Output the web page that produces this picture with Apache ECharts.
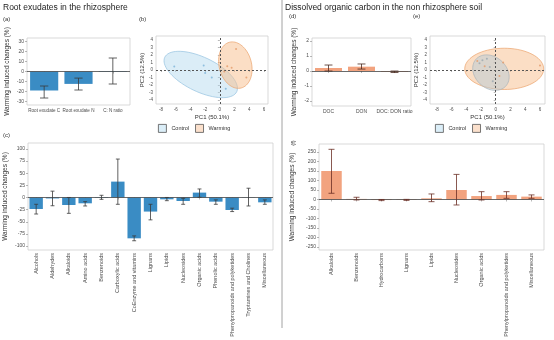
<!DOCTYPE html>
<html><head><meta charset="utf-8">
<script src="https://cdn.jsdelivr.net/npm/echarts@6/dist/echarts.min.js"></script>
<style>html,body{margin:0;padding:0;background:#fff}#c{width:554px;height:340px}</style>
</head><body><div id="c"></div>
<script>
// ---- data ----
var aCats = ['Root exudate C', 'Root exudate N', 'C: N ratio'];
var aVals = [-19, -12.4, 0.5];
var aLow  = [-26.5, -18.5, -12.5];
var aHigh = [-14.5, -6.6, 13.5];

var cCats = ['Alcohols','Aldehydes','Alkaloids','Amino acids','Benzenoids','Carboxylic acids','CoEnzyme and vitamins','Lignans','Lipids','Nucleosides','Organic acids','Phenolic acids','Phenylpropanoids and polyketides','Tryptamines and Cholines','Miscellaneous'];
var cVals = [-23.7, -2, -15.5, -12, -1, 32.6, -84, -29, -3.8, -7.2, 10, -8.6, -25.8, -0.5, -10];
var cLow  = [-34, -17, -32.6, -17.5, -3.8, -14, -89, -46, -6.6, -14, 0.4, -14, -29, -17.5, -14];
var cHigh = [-14, 13, 0, -8.6, 4.5, 79, -79, -14, 0, -1.7, 17.5, -5, -22, 19, -5];

var dCats = ['DOC', 'DON', 'DOC: DON ratio'];
var dVals = [0.2, 0.29, -0.05];
var dLow  = [0.0, 0.13, -0.1];
var dHigh = [0.4, 0.47, 0.0];

var fCats = ['Alkaloids','Benzenoids','Hydrocarbons','Lignans','Lipids','Nucleosides','Organic acids','Phenylpropanoids and polyketides','Miscellaneous'];
var fVals = [150, 3, -3, -2, 6, 50, 18, 24, 15];
var fLow  = [32.6, -2.6, -6, -5, -11.6, -29, -2.6, 6, 6];
var fHigh = [264, 11.6, 0, 0.5, 29, 132, 41, 41, 24];

// PCA points [PC1, PC2]
var bControlPts = [[-6.2, 0.45], [-2.2, 0.6], [-2.0, -0.4], [-1.1, -1.0], [0.8, -2.5]];
var bWarmingPts = [[2.2, 2.8], [1.0, 0.5], [3.6, -1.0], [0.6, -0.2], [1.6, 0.3]];
var eControlPts = [[-1.8, 1.3], [-1.2, 1.5], [-2.2, 0.9], [-0.4, -1.5], [-0.8, 0.4]];
var eWarmingPts = [[6.0, 0.6], [-1.5, 0.5], [0.5, -0.8], [-2.5, 1.2], [1.0, 1.0]];
// confidence ellipses [cx, cy, semiMajor, semiMinor, angleDeg]
var bControlEll = [-2.6, -0.6, 5.4, 2.3, -25];
var bWarmingEll = [2.1, 0.65, 3.15, 2.2, -75];
var eControlEll = [-0.65, -0.35, 2.7, 2.1, -40];
var eWarmingEll = [1.15, 0.15, 5.35, 2.75, 0];

var pcTicks = [-8, -6, -4, -2, 0, 2, 4, 6];
var pc2Ticks = [-4, -3, -2, -1, 0, 1, 2, 3, 4];
var aTicks = [-30, -20, -10, 0, 10, 20, 30];
var cTicks = [-100, -75, -50, -25, 0, 25, 50, 75, 100];
var dTicks = [-2, -1, 0, 1, 2];
var fTicks = [-250, -200, -150, -100, -50, 0, 50, 100, 150, 200, 250];

// ---- styling ----
var FONT = 'Liberation Sans, Arial, sans-serif';
var BLUE = '#3a8cc4', ORANGE = '#f2a37f';
var TXT = '#4d4d4d';
var yName = 'Warming induced changes (%)';

function grid(l, t, w, h) {
  return {left: l, top: t, width: w, height: h, show: true, borderColor: '#cfcfcf', borderWidth: 0.8, backgroundColor: '#fff', containLabel: false};
}
function catAxis(idx, cats, rotate, fs) {
  return {type: 'category', gridIndex: idx, data: cats,
    axisLine: {show: false}, axisTick: {show: true, length: 2, lineStyle: {color: '#888', width: 0.6}, alignWithLabel: true},
    axisLabel: {fontSize: fs, color: TXT, fontFamily: FONT, rotate: rotate, margin: 3, interval: 0}};
}
function valAxis(idx, min, max, ticks, name, gap, fs, nfs) {
  return {type: 'value', gridIndex: idx, min: min, max: max, splitLine: {show: false},
    axisLine: {show: false},
    axisTick: {show: true, length: 2, lineStyle: {color: '#888', width: 0.6}, customValues: ticks},
    axisLabel: {fontSize: fs, color: TXT, fontFamily: FONT, margin: 3, customValues: ticks, showMinLabel: true, showMaxLabel: true},
    name: name, nameLocation: 'middle', nameGap: gap, nameRotate: 90,
    nameTextStyle: {fontSize: nfs, color: '#333', fontFamily: FONT}};
}
function pcXAxis(idx, min, max) {
  return {type: 'value', gridIndex: idx, min: min, max: max, splitLine: {show: false},
    axisLine: {show: false},
    axisTick: {show: true, length: 2, lineStyle: {color: '#888', width: 0.6}, customValues: pcTicks},
    axisLabel: {fontSize: 4.5, color: TXT, fontFamily: FONT, margin: 3, customValues: pcTicks},
    name: 'PC1 (50.1%)', nameLocation: 'middle', nameGap: 10,
    nameTextStyle: {fontSize: 6, color: '#333', fontFamily: FONT}};
}
function pcYAxis(idx, gap) {
  return {type: 'value', gridIndex: idx, min: -4.53, max: 4.53, splitLine: {show: false},
    axisLine: {show: false},
    axisTick: {show: true, length: 2, lineStyle: {color: '#888', width: 0.6}, customValues: pc2Ticks},
    axisLabel: {fontSize: 4.5, color: TXT, fontFamily: FONT, margin: 3, customValues: pc2Ticks},
    name: 'PC2 (12.5%)', nameLocation: 'middle', nameGap: gap, nameRotate: 90,
    nameTextStyle: {fontSize: 6, color: '#333', fontFamily: FONT}};
}
function barSeries(idx, vals, color) {
  return {type: 'bar', xAxisIndex: idx, yAxisIndex: idx, data: vals, barCategoryGap: '18%',
    itemStyle: {color: color}, silent: true,
    markLine: {silent: true, symbol: 'none', label: {show: false},
      lineStyle: {color: '#444', width: 0.8, type: 'solid'}, data: [{yAxis: 0}]}};
}
function errSeries(idx, low, high, color) {
  var data = low.map(function (l, i) { return [i, l, high[i]]; });
  return {type: 'custom', xAxisIndex: idx, yAxisIndex: idx, data: data, silent: true, z: 5,
    encode: {x: 0, y: [1, 2]},
    renderItem: function (params, api) {
      var lo = api.coord([api.value(0), api.value(1)]);
      var hi = api.coord([api.value(0), api.value(2)]);
      var w = api.size([1, 0])[0] * 0.12;
      var st = {stroke: color, lineWidth: 0.8};
      return {type: 'group', children: [
        {type: 'line', shape: {x1: lo[0], y1: lo[1], x2: hi[0], y2: hi[1]}, style: st},
        {type: 'line', shape: {x1: lo[0] - w, y1: lo[1], x2: lo[0] + w, y2: lo[1]}, style: st},
        {type: 'line', shape: {x1: hi[0] - w, y1: hi[1], x2: hi[0] + w, y2: hi[1]}, style: st}
      ]};
    }};
}
function ellSeries(idx, name, ell, fill, stroke, z) {
  return {type: 'custom', name: name, xAxisIndex: idx, yAxisIndex: idx, data: [ell], silent: true, z: z,
    encode: {x: 0, y: 1},
    renderItem: function (params, api) {
      var cx = api.value(0), cy = api.value(1), a = api.value(2), b = api.value(3);
      var th = api.value(4) * Math.PI / 180;
      var pts = [];
      for (var k = 0; k < 72; k++) {
        var t = k / 72 * 2 * Math.PI;
        var x = cx + a * Math.cos(t) * Math.cos(th) - b * Math.sin(t) * Math.sin(th);
        var y = cy + a * Math.cos(t) * Math.sin(th) + b * Math.sin(t) * Math.cos(th);
        pts.push(api.coord([x, y]));
      }
      return {type: 'polygon', shape: {points: pts}, style: {fill: fill, stroke: stroke, lineWidth: 0.8}};
    }};
}
function ptSeries(idx, name, pts, color, withLines) {
  var s = {type: 'scatter', name: name, xAxisIndex: idx, yAxisIndex: idx, data: pts, symbolSize: 2,
    itemStyle: {color: color}, silent: true, z: 6};
  if (withLines) {
    s.markLine = {silent: true, symbol: 'none', label: {show: false},
      lineStyle: {color: '#555', width: 1, type: [2, 2]}, data: [{xAxis: 0}, {yAxis: 0}]};
  }
  return s;
}
function legend(left, top) {
  return {left: left, top: top, itemWidth: 8, itemHeight: 8, itemGap: 6, icon: 'rect',
    textStyle: {fontSize: 5.5, color: '#333', fontFamily: FONT},
    selectedMode: false,
    data: [
      {name: 'Control', itemStyle: {color: '#dbeef8', borderColor: '#555', borderWidth: 0.8}},
      {name: 'Warming', itemStyle: {color: '#fbe0cc', borderColor: '#555', borderWidth: 0.8}}
    ]};
}

var CFILL = 'rgba(176,214,238,0.45)', CSTROKE = 'rgba(150,195,225,0.9)';
var WFILL = 'rgba(247,190,140,0.5)', WSTROKE = 'rgba(235,165,110,0.9)';

var option = {
  animation: false,
  backgroundColor: '#fff',
  grid: [
    grid(27, 38, 103, 67),
    grid(156, 36, 112, 68),
    grid(28, 143, 245, 107),
    grid(312, 38, 99, 68),
    grid(430, 36, 115, 68),
    grid(319, 144, 225, 106)
  ],
  xAxis: [
    catAxis(0, aCats, 0, 4.6),
    pcXAxis(1, -8.68, 6.54),
    catAxis(2, cCats, 90, 5.5),
    catAxis(3, dCats, 0, 5),
    pcXAxis(4, -8.91, 6.68),
    catAxis(5, fCats, 90, 5.5)
  ],
  yAxis: [
    valAxis(0, -33.5, 33.5, aTicks, yName, 16, 5, 6.5),
    pcYAxis(1, 7),
    valAxis(2, -108, 112, cTicks, yName, 19, 5, 6.5),
    valAxis(3, -2.33, 2.2, dTicks, yName, 14, 5, 6.5),
    pcYAxis(4, 10),
    valAxis(5, -266, 292, fTicks, yName, 23, 5, 6.5)
  ],
  legend: [legend(153, 119), legend(430, 119)],
  series: [
    barSeries(0, aVals, BLUE), errSeries(0, aLow, aHigh, '#3a3a3a'),
    ellSeries(1, 'Control', bControlEll, CFILL, CSTROKE, 2),
    ellSeries(1, 'Warming', bWarmingEll, WFILL, WSTROKE, 3),
    ptSeries(1, 'Control', bControlPts, '#7ab3d8', true),
    ptSeries(1, 'Warming', bWarmingPts, '#e39a68', false),
    barSeries(2, cVals, BLUE), errSeries(2, cLow, cHigh, '#3a3a3a'),
    barSeries(3, dVals, ORANGE), errSeries(3, dLow, dHigh, '#4a2a20'),
    ellSeries(4, 'Warming', eWarmingEll, WFILL, WSTROKE, 2),
    ellSeries(4, 'Control', eControlEll, 'rgba(176,200,215,0.45)', 'rgba(170,180,185,0.9)', 3),
    ptSeries(4, 'Control', eControlPts, '#9aa8b0', true),
    ptSeries(4, 'Warming', eWarmingPts, '#e39a68', false),
    barSeries(5, fVals, ORANGE), errSeries(5, fLow, fHigh, '#6b2f25')
  ],
  graphic: [
    {type: 'line', shape: {x1: 282, y1: 0, x2: 282, y2: 328}, style: {stroke: '#8a8a8a', lineWidth: 0.8}, silent: true},
    {type: 'text', x: 3, y: 8, style: {text: 'Root exudates in the rhizosphere', fontSize: 8.5, fill: '#222', fontFamily: FONT, verticalAlign: 'middle'}},
    {type: 'text', x: 285, y: 8, style: {text: 'Dissolved organic carbon in the non rhizosphere soil', fontSize: 8.5, fill: '#222', fontFamily: FONT, verticalAlign: 'middle'}},
    {type: 'text', x: 3, y: 19, style: {text: '(a)', fontSize: 6, fill: '#333', fontFamily: FONT, verticalAlign: 'middle'}},
    {type: 'text', x: 139, y: 19, style: {text: '(b)', fontSize: 6, fill: '#333', fontFamily: FONT, verticalAlign: 'middle'}},
    {type: 'text', x: 3, y: 135, style: {text: '(c)', fontSize: 6, fill: '#333', fontFamily: FONT, verticalAlign: 'middle'}},
    {type: 'text', x: 289, y: 16, style: {text: '(d)', fontSize: 6, fill: '#333', fontFamily: FONT, verticalAlign: 'middle'}},
    {type: 'text', x: 413, y: 16, style: {text: '(e)', fontSize: 6, fill: '#333', fontFamily: FONT, verticalAlign: 'middle'}},
    {type: 'text', x: 293, y: 143, rotation: Math.PI / 2, style: {text: '(f)', fontSize: 6, fill: '#333', fontFamily: FONT, align: 'center', verticalAlign: 'middle'}}
  ]
};
var chart = echarts.init(document.getElementById('c'), null, {renderer: 'canvas'});
chart.setOption(option);
</script></body></html>
